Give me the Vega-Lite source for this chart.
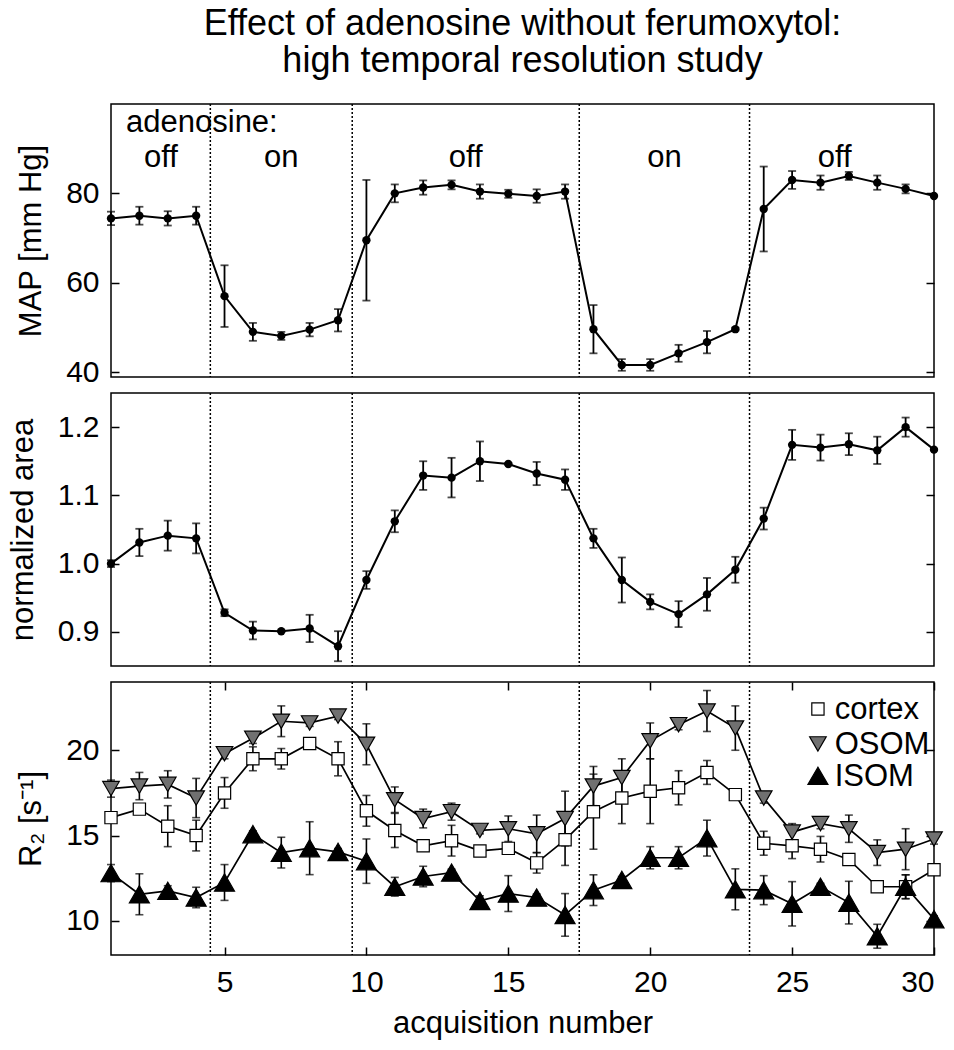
{
  "$schema": "https://vega.github.io/schema/vega-lite/v6.json",
  "background": "white",
  "padding": {"left": 6, "top": 5, "right": 5, "bottom": 5},
  "spacing": 16,
  "bounds": "flush",
  "config": {
    "font": "Liberation Sans",
    "view": {"stroke": "black", "strokeWidth": 1.5},
    "axis": {
      "grid": false, "domain": false,
      "tickColor": "black", "tickWidth": 1.5, "tickSize": -8,
      "labelFont": "Liberation Sans", "labelFontSize": 30, "labelColor": "black", "labelPadding": 20,
      "titleFont": "Liberation Sans", "titleFontSize": 31, "titleFontWeight": "normal", "titleColor": "black", "titlePadding": 18
    }
  },
  "datasets": {
    "phases": [{"boundary": 4.5}, {"boundary": 9.5}, {"boundary": 17.5}, {"boundary": 23.5}],
    "labels": [
      {"text": "adenosine:", "n": 1.53, "v": 93.7, "kind": "head"},
      {"text": "off", "n": 2.76, "v": 86.0, "kind": "phase"},
      {"text": "on", "n": 7.0, "v": 86.0, "kind": "phase"},
      {"text": "off", "n": 13.5, "v": 86.0, "kind": "phase"},
      {"text": "on", "n": 20.5, "v": 86.0, "kind": "phase"},
      {"text": "off", "n": 26.5, "v": 86.0, "kind": "phase"}
    ],
    "key": [
      {"series": "cortex", "n": 25.91, "tn": 26.5, "v": 22.42},
      {"series": "OSOM", "n": 25.91, "tn": 26.5, "v": 20.37},
      {"series": "ISOM", "n": 25.91, "tn": 26.5, "v": 18.5}
    ],
    "map": [
      {"n": 1, "mean": 74.4, "err": 1.5}, {"n": 2, "mean": 75.0, "err": 2.0}, {"n": 3, "mean": 74.4, "err": 1.6},
      {"n": 4, "mean": 75.0, "err": 2.0}, {"n": 5, "mean": 57.0, "err": 6.9}, {"n": 6, "mean": 49.0, "err": 2.0},
      {"n": 7, "mean": 48.1, "err": 0.9}, {"n": 8, "mean": 49.5, "err": 1.5}, {"n": 9, "mean": 51.6, "err": 2.5},
      {"n": 10, "mean": 69.5, "err": 13.5}, {"n": 11, "mean": 80.0, "err": 2.0}, {"n": 12, "mean": 81.3, "err": 1.6},
      {"n": 13, "mean": 81.9, "err": 1.0}, {"n": 14, "mean": 80.4, "err": 1.6}, {"n": 15, "mean": 79.9, "err": 0.9},
      {"n": 16, "mean": 79.4, "err": 1.5}, {"n": 17, "mean": 80.4, "err": 1.6}, {"n": 18, "mean": 49.6, "err": 5.4},
      {"n": 19, "mean": 41.6, "err": 1.3}, {"n": 20, "mean": 41.6, "err": 1.3}, {"n": 21, "mean": 44.2, "err": 1.9},
      {"n": 22, "mean": 46.7, "err": 2.5}, {"n": 23, "mean": 49.6, "err": 0.3}, {"n": 24, "mean": 76.5, "err": 9.5},
      {"n": 25, "mean": 83.0, "err": 2.0}, {"n": 26, "mean": 82.4, "err": 1.6}, {"n": 27, "mean": 83.9, "err": 0.9},
      {"n": 28, "mean": 82.4, "err": 1.6}, {"n": 29, "mean": 81.0, "err": 1.0}, {"n": 30, "mean": 79.4, "err": 0}
    ],
    "area": [
      {"n": 1, "mean": 1.000, "err": 0.005}, {"n": 2, "mean": 1.031, "err": 0.020}, {"n": 3, "mean": 1.041, "err": 0.022},
      {"n": 4, "mean": 1.037, "err": 0.022}, {"n": 5, "mean": 0.928, "err": 0.005}, {"n": 6, "mean": 0.902, "err": 0.013},
      {"n": 7, "mean": 0.901, "err": 0.001}, {"n": 8, "mean": 0.905, "err": 0.020}, {"n": 9, "mean": 0.879, "err": 0.022},
      {"n": 10, "mean": 0.976, "err": 0.013}, {"n": 11, "mean": 1.062, "err": 0.016}, {"n": 12, "mean": 1.129, "err": 0.021},
      {"n": 13, "mean": 1.126, "err": 0.029}, {"n": 14, "mean": 1.150, "err": 0.029}, {"n": 15, "mean": 1.146, "err": 0.001},
      {"n": 16, "mean": 1.132, "err": 0.017}, {"n": 17, "mean": 1.123, "err": 0.015}, {"n": 18, "mean": 1.037, "err": 0.014},
      {"n": 19, "mean": 0.976, "err": 0.033}, {"n": 20, "mean": 0.944, "err": 0.011}, {"n": 21, "mean": 0.926, "err": 0.019},
      {"n": 22, "mean": 0.955, "err": 0.024}, {"n": 23, "mean": 0.991, "err": 0.019}, {"n": 24, "mean": 1.066, "err": 0.016},
      {"n": 25, "mean": 1.174, "err": 0.022}, {"n": 26, "mean": 1.170, "err": 0.019}, {"n": 27, "mean": 1.175, "err": 0.016},
      {"n": 28, "mean": 1.166, "err": 0.020}, {"n": 29, "mean": 1.200, "err": 0.014}, {"n": 30, "mean": 1.167, "err": 0}
    ],
    "r2": [
      {"series": "cortex", "n": 1, "mean": 16.05, "err": 0.3}, {"series": "cortex", "n": 2, "mean": 16.55, "err": 0.3},
      {"series": "cortex", "n": 3, "mean": 15.55, "err": 1.2}, {"series": "cortex", "n": 4, "mean": 15.0, "err": 0.9},
      {"series": "cortex", "n": 5, "mean": 17.5, "err": 0.9}, {"series": "cortex", "n": 6, "mean": 19.5, "err": 0.7},
      {"series": "cortex", "n": 7, "mean": 19.5, "err": 0.6}, {"series": "cortex", "n": 8, "mean": 20.4, "err": 0.2},
      {"series": "cortex", "n": 9, "mean": 19.5, "err": 1.0}, {"series": "cortex", "n": 10, "mean": 16.45, "err": 0.9},
      {"series": "cortex", "n": 11, "mean": 15.3, "err": 1.0}, {"series": "cortex", "n": 12, "mean": 14.4, "err": 0.2},
      {"series": "cortex", "n": 13, "mean": 14.7, "err": 0.9}, {"series": "cortex", "n": 14, "mean": 14.1, "err": 0.2},
      {"series": "cortex", "n": 15, "mean": 14.25, "err": 0.2}, {"series": "cortex", "n": 16, "mean": 13.4, "err": 0.6},
      {"series": "cortex", "n": 17, "mean": 14.75, "err": 1.5}, {"series": "cortex", "n": 18, "mean": 16.4, "err": 2.2},
      {"series": "cortex", "n": 19, "mean": 17.2, "err": 1.5}, {"series": "cortex", "n": 20, "mean": 17.6, "err": 1.9},
      {"series": "cortex", "n": 21, "mean": 17.8, "err": 1.0}, {"series": "cortex", "n": 22, "mean": 18.7, "err": 0.7},
      {"series": "cortex", "n": 23, "mean": 17.4, "err": 0.2}, {"series": "cortex", "n": 24, "mean": 14.55, "err": 0.7},
      {"series": "cortex", "n": 25, "mean": 14.4, "err": 0.75}, {"series": "cortex", "n": 26, "mean": 14.2, "err": 0.75},
      {"series": "cortex", "n": 27, "mean": 13.6, "err": 0.2}, {"series": "cortex", "n": 28, "mean": 12.0, "err": 0.2},
      {"series": "cortex", "n": 29, "mean": 12.0, "err": 0.7}, {"series": "cortex", "n": 30, "mean": 13.0, "err": 0.2},
      {"series": "OSOM", "n": 1, "mean": 17.75, "err": 0.5}, {"series": "OSOM", "n": 2, "mean": 17.9, "err": 0.8},
      {"series": "OSOM", "n": 3, "mean": 18.0, "err": 0.8}, {"series": "OSOM", "n": 4, "mean": 17.2, "err": 1.15},
      {"series": "OSOM", "n": 5, "mean": 19.8, "err": 0.3}, {"series": "OSOM", "n": 6, "mean": 20.7, "err": 0.3},
      {"series": "OSOM", "n": 7, "mean": 21.7, "err": 0.9}, {"series": "OSOM", "n": 8, "mean": 21.6, "err": 0.2},
      {"series": "OSOM", "n": 9, "mean": 22.0, "err": 0.2}, {"series": "OSOM", "n": 10, "mean": 20.35, "err": 1.2},
      {"series": "OSOM", "n": 11, "mean": 17.1, "err": 0.75}, {"series": "OSOM", "n": 12, "mean": 16.0, "err": 0.55},
      {"series": "OSOM", "n": 13, "mean": 16.4, "err": 0.5}, {"series": "OSOM", "n": 14, "mean": 15.3, "err": 0.2},
      {"series": "OSOM", "n": 15, "mean": 15.4, "err": 0.75}, {"series": "OSOM", "n": 16, "mean": 15.1, "err": 1.1},
      {"series": "OSOM", "n": 17, "mean": 16.0, "err": 1.6}, {"series": "OSOM", "n": 18, "mean": 17.9, "err": 1.15},
      {"series": "OSOM", "n": 19, "mean": 18.4, "err": 1.1}, {"series": "OSOM", "n": 20, "mean": 20.55, "err": 1.05},
      {"series": "OSOM", "n": 21, "mean": 21.5, "err": 0.3}, {"series": "OSOM", "n": 22, "mean": 22.3, "err": 1.2},
      {"series": "OSOM", "n": 23, "mean": 21.3, "err": 1.3}, {"series": "OSOM", "n": 24, "mean": 17.2, "err": 0.3},
      {"series": "OSOM", "n": 25, "mean": 15.2, "err": 0.5}, {"series": "OSOM", "n": 26, "mean": 15.7, "err": 0.3},
      {"series": "OSOM", "n": 27, "mean": 15.4, "err": 0.8}, {"series": "OSOM", "n": 28, "mean": 14.0, "err": 0.75},
      {"series": "OSOM", "n": 29, "mean": 14.2, "err": 1.2}, {"series": "OSOM", "n": 30, "mean": 14.8, "err": 0.3},
      {"series": "ISOM", "n": 1, "mean": 12.8, "err": 0.5}, {"series": "ISOM", "n": 2, "mean": 11.56, "err": 1.2},
      {"series": "ISOM", "n": 3, "mean": 11.76, "err": 0.3}, {"series": "ISOM", "n": 4, "mean": 11.37, "err": 0.6},
      {"series": "ISOM", "n": 5, "mean": 12.25, "err": 1.05}, {"series": "ISOM", "n": 6, "mean": 15.08, "err": 0.2},
      {"series": "ISOM", "n": 7, "mean": 14.0, "err": 0.9}, {"series": "ISOM", "n": 8, "mean": 14.26, "err": 1.55},
      {"series": "ISOM", "n": 9, "mean": 14.04, "err": 0.2}, {"series": "ISOM", "n": 10, "mean": 13.5, "err": 1.3},
      {"series": "ISOM", "n": 11, "mean": 12.0, "err": 0.55}, {"series": "ISOM", "n": 12, "mean": 12.6, "err": 0.6},
      {"series": "ISOM", "n": 13, "mean": 12.83, "err": 0.2}, {"series": "ISOM", "n": 14, "mean": 11.17, "err": 0.3},
      {"series": "ISOM", "n": 15, "mean": 11.6, "err": 1.05}, {"series": "ISOM", "n": 16, "mean": 11.37, "err": 0.2},
      {"series": "ISOM", "n": 17, "mean": 10.35, "err": 1.25}, {"series": "ISOM", "n": 18, "mean": 11.8, "err": 0.9},
      {"series": "ISOM", "n": 19, "mean": 12.4, "err": 0.2}, {"series": "ISOM", "n": 20, "mean": 13.7, "err": 0.65},
      {"series": "ISOM", "n": 21, "mean": 13.7, "err": 0.65}, {"series": "ISOM", "n": 22, "mean": 14.85, "err": 1.05},
      {"series": "ISOM", "n": 23, "mean": 11.85, "err": 1.2}, {"series": "ISOM", "n": 24, "mean": 11.8, "err": 0.85},
      {"series": "ISOM", "n": 25, "mean": 11.0, "err": 1.3}, {"series": "ISOM", "n": 26, "mean": 12.0, "err": 0.2},
      {"series": "ISOM", "n": 27, "mean": 11.07, "err": 1.25}, {"series": "ISOM", "n": 28, "mean": 9.1, "err": 0.7},
      {"series": "ISOM", "n": 29, "mean": 12.0, "err": 0.7}, {"series": "ISOM", "n": 30, "mean": 10.1, "err": 0.2}
    ]
  },
  "vconcat": [
    {
      "width": 823, "height": 273,
      "title": {
        "text": ["Effect of adenosine without ferumoxytol:", "high temporal resolution study"],
        "font": "Liberation Sans", "fontSize": 36, "fontWeight": "normal", "color": "black",
        "anchor": "middle", "frame": "group", "lineHeight": 37, "offset": 23
      },
      "resolve": {"axis": {"y": "independent"}},
      "layer": [
        {
          "data": {"name": "phases"},
          "mark": {"type": "rule", "color": "black", "strokeWidth": 1.5, "strokeDash": [2, 2]},
          "encoding": {"x": {"field": "boundary", "type": "quantitative", "scale": {"domain": [1, 30], "nice": false, "zero": false}, "axis": null}}
        },
        {
          "data": {"name": "map"},
          "mark": {"type": "line", "color": "black", "strokeWidth": 2},
          "encoding": {
            "x": {"field": "n", "type": "quantitative", "axis": null},
            "y": {"field": "mean", "type": "quantitative", "scale": {"domain": [38.9, 100], "nice": false, "zero": false},
                  "axis": {"title": "MAP [mm Hg]", "values": [40, 60, 80]}}
          }
        },
        {
          "data": {"name": "map"},
          "mark": {"type": "errorbar", "color": "black", "thickness": 1.8, "ticks": {"size": 8}},
          "encoding": {
            "x": {"field": "n", "type": "quantitative", "axis": null},
            "y": {"field": "mean", "type": "quantitative", "axis": null},
            "yError": {"field": "err"}
          }
        },
        {
          "data": {"name": "map"},
          "mark": {"type": "circle", "color": "black", "size": 70, "opacity": 1},
          "encoding": {
            "x": {"field": "n", "type": "quantitative", "axis": null},
            "y": {"field": "mean", "type": "quantitative", "axis": {"orient": "right", "values": [40, 60, 80], "labels": false, "title": null}}
          }
        },
        {
          "data": {"name": "labels"},
          "transform": [{"filter": "datum.kind === 'head'"}],
          "mark": {"type": "text", "fontSize": 31, "font": "Liberation Sans", "color": "black", "baseline": "alphabetic", "align": "left"},
          "encoding": {
            "x": {"field": "n", "type": "quantitative", "axis": null},
            "y": {"field": "v", "type": "quantitative", "axis": null},
            "text": {"field": "text"}
          }
        },
        {
          "data": {"name": "labels"},
          "transform": [{"filter": "datum.kind === 'phase'"}],
          "mark": {"type": "text", "fontSize": 31, "font": "Liberation Sans", "color": "black", "baseline": "alphabetic", "align": "center"},
          "encoding": {
            "x": {"field": "n", "type": "quantitative", "axis": null},
            "y": {"field": "v", "type": "quantitative", "axis": null},
            "text": {"field": "text"}
          }
        }
      ]
    },
    {
      "width": 823, "height": 273,
      "resolve": {"axis": {"y": "independent"}},
      "layer": [
        {
          "data": {"name": "phases"},
          "mark": {"type": "rule", "color": "black", "strokeWidth": 1.5, "strokeDash": [2, 2]},
          "encoding": {"x": {"field": "boundary", "type": "quantitative", "scale": {"domain": [1, 30], "nice": false, "zero": false}, "axis": null}}
        },
        {
          "data": {"name": "area"},
          "mark": {"type": "line", "color": "black", "strokeWidth": 2},
          "encoding": {
            "x": {"field": "n", "type": "quantitative", "axis": null},
            "y": {"field": "mean", "type": "quantitative", "scale": {"domain": [0.85, 1.25], "nice": false, "zero": false},
                  "axis": {"title": "normalized area", "values": [0.9, 1.0, 1.1, 1.2], "format": ".1f"}}
          }
        },
        {
          "data": {"name": "area"},
          "mark": {"type": "errorbar", "color": "black", "thickness": 1.8, "ticks": {"size": 8}},
          "encoding": {
            "x": {"field": "n", "type": "quantitative", "axis": null},
            "y": {"field": "mean", "type": "quantitative", "axis": null},
            "yError": {"field": "err"}
          }
        },
        {
          "data": {"name": "area"},
          "mark": {"type": "circle", "color": "black", "size": 70, "opacity": 1},
          "encoding": {
            "x": {"field": "n", "type": "quantitative", "axis": null},
            "y": {"field": "mean", "type": "quantitative", "axis": {"orient": "right", "values": [0.9, 1.0, 1.1, 1.2], "labels": false, "title": null}}
          }
        }
      ]
    },
    {
      "width": 823, "height": 273,
      "resolve": {"axis": {"y": "independent", "x": "independent"}},
      "layer": [
        {
          "data": {"name": "phases"},
          "mark": {"type": "rule", "color": "black", "strokeWidth": 1.5, "strokeDash": [2, 2]},
          "encoding": {"x": {"field": "boundary", "type": "quantitative", "scale": {"domain": [1, 30], "nice": false, "zero": false},
                              "axis": {"title": "acquisition number", "values": [5, 10, 15, 20, 25, 30], "titlePadding": 11}}}
        },
        {
          "data": {"name": "r2"},
          "mark": {"type": "errorbar", "color": "black", "thickness": 1.6, "ticks": {"size": 8}},
          "encoding": {
            "x": {"field": "n", "type": "quantitative", "axis": null},
            "y": {"field": "mean", "type": "quantitative", "axis": null},
            "yError": {"field": "err"}
          }
        },
        {
          "data": {"name": "r2"},
          "mark": {"type": "line", "color": "black", "strokeWidth": 1.7},
          "encoding": {
            "x": {"field": "n", "type": "quantitative", "axis": {"orient": "top", "values": [5, 10, 15, 20, 25, 30], "labels": false, "title": null}},
            "y": {"field": "mean", "type": "quantitative", "scale": {"domain": [8, 24], "nice": false, "zero": false},
                  "axis": {"title": "R₂ [s⁻¹]", "values": [10, 15, 20]}},
            "detail": {"field": "series", "type": "nominal"}
          }
        },
        {
          "data": {"name": "r2"},
          "mark": {"type": "point", "filled": true, "stroke": "black", "strokeWidth": 1.2, "opacity": 1},
          "encoding": {
            "x": {"field": "n", "type": "quantitative", "axis": null},
            "y": {"field": "mean", "type": "quantitative", "axis": {"orient": "right", "values": [10, 15, 20], "labels": false, "title": null}},
            "shape": {"field": "series", "type": "nominal", "scale": {"domain": ["cortex", "OSOM", "ISOM"], "range": ["square", "triangle-down", "triangle-up"]}, "legend": null},
            "fill": {"field": "series", "type": "nominal", "scale": {"domain": ["cortex", "OSOM", "ISOM"], "range": ["white", "#707070", "black"]}, "legend": null},
            "size": {"field": "series", "type": "nominal", "scale": {"domain": ["cortex", "OSOM", "ISOM"], "range": [150, 400, 400]}, "legend": null}
          }
        },
        {
          "data": {"name": "key"},
          "mark": {"type": "point", "filled": true, "stroke": "black", "strokeWidth": 1.2, "opacity": 1},
          "encoding": {
            "x": {"field": "n", "type": "quantitative", "axis": null},
            "y": {"field": "v", "type": "quantitative", "axis": null},
            "shape": {"field": "series", "type": "nominal", "legend": null},
            "fill": {"field": "series", "type": "nominal", "legend": null},
            "size": {"field": "series", "type": "nominal", "legend": null}
          }
        },
        {
          "data": {"name": "key"},
          "mark": {"type": "text", "fontSize": 31, "font": "Liberation Sans", "color": "black", "align": "left", "baseline": "middle", "dy": 1},
          "encoding": {
            "x": {"field": "tn", "type": "quantitative", "axis": null},
            "y": {"field": "v", "type": "quantitative", "axis": null},
            "text": {"field": "series"}
          }
        }
      ]
    }
  ]
}
